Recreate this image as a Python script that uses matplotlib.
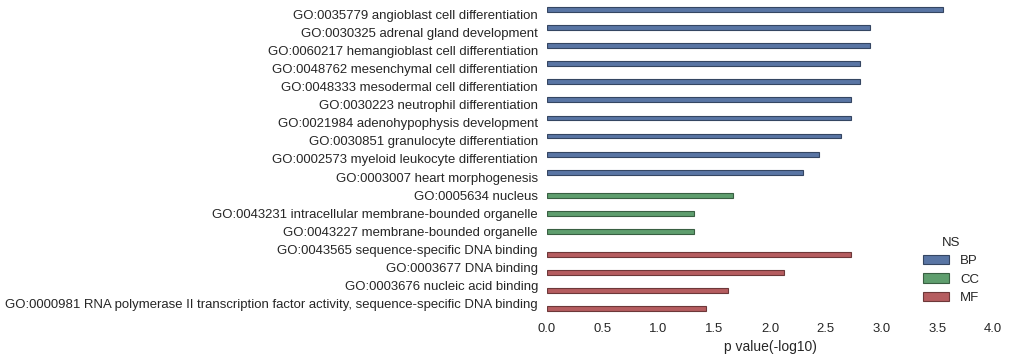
import matplotlib
matplotlib.use("Agg")
import matplotlib.pyplot as plt
import colorsys
from matplotlib.patches import Patch

terms = [
    "GO:0035779 angioblast cell differentiation",
    "GO:0030325 adrenal gland development",
    "GO:0060217 hemangioblast cell differentiation",
    "GO:0048762 mesenchymal cell differentiation",
    "GO:0048333 mesodermal cell differentiation",
    "GO:0030223 neutrophil differentiation",
    "GO:0021984 adenohypophysis development",
    "GO:0030851 granulocyte differentiation",
    "GO:0002573 myeloid leukocyte differentiation",
    "GO:0003007 heart morphogenesis",
    "GO:0005634 nucleus",
    "GO:0043231 intracellular membrane-bounded organelle",
    "GO:0043227 membrane-bounded organelle",
    "GO:0043565 sequence-specific DNA binding",
    "GO:0003677 DNA binding",
    "GO:0003676 nucleic acid binding",
    "GO:0000981 RNA polymerase II transcription factor activity, sequence-specific DNA binding",
]
namespace = ["BP"] * 10 + ["CC"] * 3 + ["MF"] * 4
pvalues = [3.55, 2.90, 2.90, 2.81, 2.81, 2.73, 2.73, 2.64, 2.44, 2.30,
           1.67, 1.32, 1.32,
           2.73, 2.13, 1.62, 1.43]
hue_order = ["BP", "CC", "MF"]
base_colors = ["#4C72B0", "#55A868", "#C44E52"]


def desat(c, prop):
    r, g, b = matplotlib.colors.to_rgb(c)
    h, l, s = colorsys.rgb_to_hls(r, g, b)
    return colorsys.hls_to_rgb(h, l, s * prop)


def darker(c, f=0.6):
    r, g, b = c
    return (r * f, g * f, b * f)


colors = {h: desat(c, 0.75) for h, c in zip(hue_order, base_colors)}

plt.rcParams["font.family"] = ["Liberation Sans", "DejaVu Sans"]
fig = plt.figure(figsize=(10.09, 3.62), dpi=100)
ax = fig.add_axes([547 / 1009, 1 - 313 / 362, (993 - 547) / 1009, (313 - 5) / 362])

w = 0.8 / 3
for i, (t, ns, v) in enumerate(zip(terms, namespace, pvalues)):
    k = hue_order.index(ns)
    y = i + (k - 1) * w
    ax.barh(y, v, height=w, color=colors[ns], edgecolor=darker(colors[ns]), linewidth=0.8)

ax.set_yticks(range(len(terms)))
ax.set_yticklabels(terms)
ax.set_ylim(len(terms) - 0.5, -0.5)
ax.set_xlim(0, 4)
ax.set_xticks([0, 0.5, 1, 1.5, 2, 2.5, 3, 3.5, 4])
ax.set_xticklabels(["0.0", "0.5", "1.0", "1.5", "2.0", "2.5", "3.0", "3.5", "4.0"])
ax.set_xlabel("p value(-log10)", fontsize=10, color="#262626", labelpad=4)
ax.tick_params(axis="both", length=0, labelsize=9.45, colors="#262626")
ax.tick_params(axis="y", pad=6.5)
ax.tick_params(axis="x", pad=7)
for s in ax.spines.values():
    s.set_visible(False)

handles = [Patch(facecolor=colors[h], edgecolor=darker(colors[h]), linewidth=0.8, label=h) for h in hue_order]
leg = ax.legend(handles=handles, title="NS", loc="lower right", frameon=False,
                fontsize=9.5, title_fontsize=9.5, handlelength=2.0, handleheight=0.7,
                labelspacing=0.45, borderaxespad=0.3, bbox_to_anchor=(0.99, 0.0))
for txt in leg.get_texts():
    txt.set_color("#262626")
leg.get_title().set_color("#262626")

fig.savefig("out.png", dpi=100)
